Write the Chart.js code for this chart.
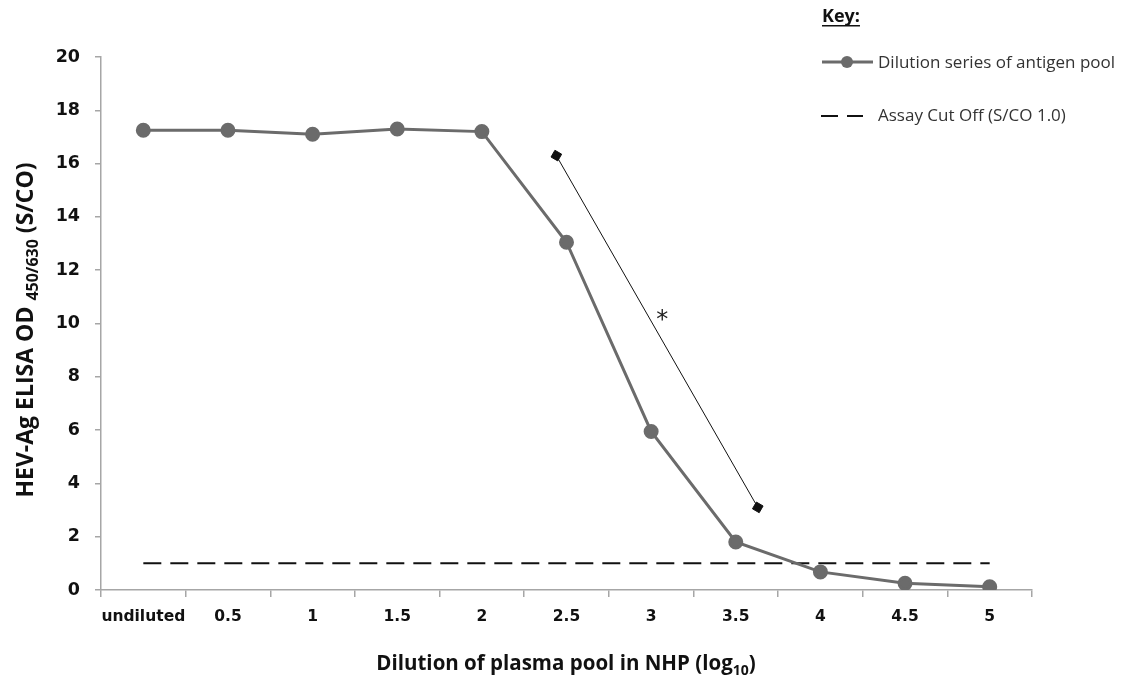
<!DOCTYPE html>
<html>
<head>
<meta charset="utf-8">
<title>HEV-Ag dilution series</title>
<script src="https://cdn.jsdelivr.net/npm/chart.js@4"></script>
<style>
  html, body { margin: 0; padding: 0; background: #fff; }
  #wrap { width: 1130px; height: 683px; }
</style>
</head>
<body>
<div id="wrap"><canvas id="myChart" width="1130" height="683"></canvas></div>
<script>
// dilution steps (log10) and the S/CO readings
const labels = ['undiluted', '0.5', '1', '1.5', '2', '2.5', '3', '3.5', '4', '4.5', '5'];
const antigenPool = [17.25, 17.25, 17.1, 17.3, 17.2, 13.05, 5.95, 1.8, 0.68, 0.25, 0.12];
const cutOff = [1, 1, 1, 1, 1, 1, 1, 1, 1, 1, 1];
const yTicks = [0, 2, 4, 6, 8, 10, 12, 14, 16, 18, 20];

// slope marker, x given as position along the category axis
const slopeX = [4.88, 7.26];
const slopeY = [16.3, 3.1];
const starX = 6.13;
const starY = 10.4;

const grey = '#6b6b6b';
const axisGrey = '#a6a6a6';

// draws text with a subscript part, left to right from x
function drawSub(ctx, parts, x, y, align) {
  let total = 0;
  parts.forEach(p => { ctx.font = p.font; total += ctx.measureText(p.text).width; });
  let cx = align === 'center' ? x - total / 2 : x;
  parts.forEach(p => {
    ctx.font = p.font;
    ctx.fillText(p.text, cx, y + (p.dy || 0));
    cx += ctx.measureText(p.text).width;
  });
}

const extras = {
  id: 'extras',
  afterDraw(chart) {
    const ctx = chart.ctx;
    ctx.save();
    ctx.fillStyle = '#111';
    ctx.textBaseline = 'alphabetic';
    ctx.textAlign = 'left';

    // y title, rotated
    ctx.save();
    ctx.translate(33, 330);
    ctx.rotate(-Math.PI / 2);
    drawSub(ctx, [
      { text: 'HEV-Ag ELISA OD ', font: 'bold 23px "Open Sans"' },
      { text: '450/630', font: 'bold 16px "Open Sans"', dy: 5 },
      { text: ' (S/CO)', font: 'bold 23px "Open Sans"' }
    ], 0, 0, 'center');
    ctx.restore();

    // x title
    drawSub(ctx, [
      { text: 'Dilution of plasma pool in NHP (log', font: 'bold 20.5px "Open Sans"' },
      { text: '10', font: 'bold 14px "Open Sans"', dy: 5 },
      { text: ')', font: 'bold 20.5px "Open Sans"' }
    ], 566, 670, 'center');

    // asterisk
    const x2 = chart.scales.x2, y = chart.scales.y;
    ctx.font = '24px "DejaVu Sans"';
    ctx.textAlign = 'center';
    ctx.fillStyle = '#222';
    ctx.fillText('*', x2.getPixelForValue(starX), y.getPixelForValue(starY) + 14);

    // key
    ctx.textAlign = 'left';
    ctx.fillStyle = '#111';
    ctx.font = 'bold 18px "Open Sans"';
    ctx.fillText('Key:', 822, 22);
    const kw = ctx.measureText('Key:').width;
    ctx.fillRect(822, 25, kw, 1.5);

    ctx.strokeStyle = grey;
    ctx.lineWidth = 3;
    ctx.beginPath();
    ctx.moveTo(822, 62);
    ctx.lineTo(873, 62);
    ctx.stroke();
    ctx.fillStyle = grey;
    ctx.beginPath();
    ctx.arc(847, 62, 6, 0, Math.PI * 2);
    ctx.fill();

    ctx.strokeStyle = '#111';
    ctx.lineWidth = 2;
    ctx.beginPath();
    ctx.moveTo(821, 116); ctx.lineTo(838, 116);
    ctx.moveTo(847, 116); ctx.lineTo(863, 116);
    ctx.stroke();

    ctx.fillStyle = '#333';
    ctx.font = '17px "Open Sans"';
    ctx.fillText('Dilution series of antigen pool', 878, 68);
    ctx.fillText('Assay Cut Off (S/CO 1.0)', 878, 121);
    ctx.restore();
  }
};

const ctx = document.getElementById('myChart').getContext('2d');

new Chart(ctx, {
  type: 'line',
  data: {
    labels: labels,
    datasets: [
      {
        label: 'Dilution series of antigen pool',
        data: antigenPool,
        borderColor: grey,
        backgroundColor: grey,
        borderWidth: 3,
        pointRadius: 6,
        pointHoverRadius: 6,
        tension: 0
      },
      {
        label: 'Assay Cut Off (S/CO 1.0)',
        data: cutOff,
        borderColor: '#111',
        borderWidth: 2,
        borderDash: [18, 9],
        pointRadius: 0
      },
      {
        label: 'slope',
        data: slopeX.map((x, i) => ({ x: x, y: slopeY[i] })),
        xAxisID: 'x2',
        borderColor: '#111',
        backgroundColor: '#111',
        borderWidth: 1,
        pointStyle: 'rect',
        pointRadius: 5.5,
        rotation: 30
      }
    ]
  },
  options: {
    responsive: false,
    animation: false,
    layout: { padding: { top: 57, right: 98, left: 0, bottom: 0 } },
    plugins: {
      legend: { display: false },
      tooltip: { enabled: false }
    },
    scales: {
      x: {
        type: 'category',
        offset: true,
        afterFit: s => { s.height = 93; },
        border: { color: axisGrey, width: 1.5 },
        grid: { offset: true, drawOnChartArea: false, drawTicks: true, tickLength: 7, color: axisGrey, lineWidth: 1.5 },
        ticks: { color: '#111', font: { family: 'DejaVu Sans', weight: 'bold', size: 15.5 }, padding: 11, maxRotation: 0, autoSkip: false }
      },
      x2: {
        type: 'linear',
        display: false,
        min: -0.5,
        max: labels.length - 0.5
      },
      y: {
        min: 0,
        max: 20,
        afterFit: s => { s.width = 101; },
        afterBuildTicks: s => { s.ticks = yTicks.map(v => ({ value: v })); },
        border: { color: axisGrey, width: 1.5 },
        grid: { drawOnChartArea: false, drawTicks: true, tickLength: 6, color: axisGrey, lineWidth: 1.5 },
        ticks: { color: '#111', font: { family: 'DejaVu Sans', weight: 'bold', size: 17.5 }, padding: 15 }
      }
    }
  },
  plugins: [extras]
});
</script>
</body>
</html>
